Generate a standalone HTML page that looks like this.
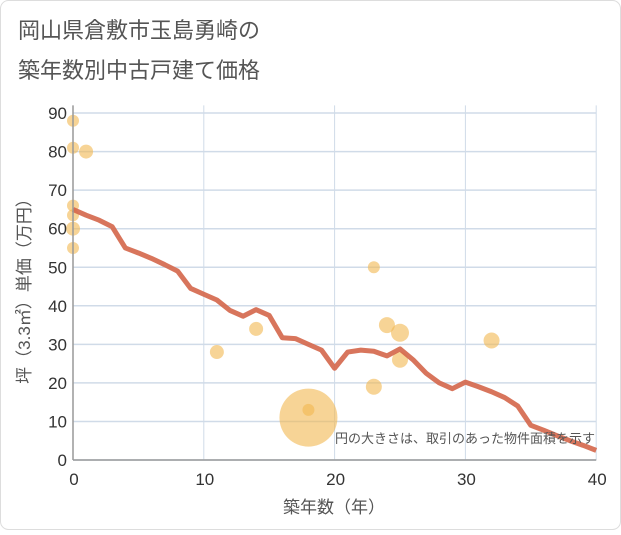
<!DOCTYPE html>
<html><head><meta charset="utf-8"><style>
body{margin:0;background:#fff;font-family:"Liberation Sans","Noto Sans CJK JP",sans-serif}
#wrap{position:relative;width:621px;height:530px}
</style></head><body>
<div id="wrap">
<svg id="chart" width="621" height="530">
<rect x="0.5" y="0.5" width="620" height="529" rx="8" fill="#fff" stroke="#ddd"/>
<text x="18" y="38" font-size="22" fill="#555">岡山県倉敷市玉島勇崎の</text>
<text x="18" y="78" font-size="22" fill="#555">築年数別中古戸建て価格</text>
<g id="grid"></g><g id="marks"></g><g id="axes"></g>
<text x="595" y="443" font-size="13" fill="#555" text-anchor="end">円の大きさは、取引のあった物件面積を示す</text>
<text x="334" y="513" font-size="17" fill="#555" text-anchor="middle">築年数（年）</text>
<text transform="translate(30,287) rotate(-90)" font-size="17" fill="#555" text-anchor="middle">坪（3.3㎡）単価（万円）</text>
</svg></div>
<script>
const xTicks=[0,10,20,30,40];
const yTicks=[0,10,20,30,40,50,60,70,80,90];
const lineYears=[0,1,2,3,4,5,6,7,8,9,10,11,12,13,14,15,16,17,18,19,20,21,22,23,24,25,26,27,28,29,30,31,32,33,34,35,36,37,38,39,40];
const lineValues=[65,63.5,62.2,60.5,55,53.7,52.3,50.7,49,44.5,43,41.5,38.8,37.3,39,37.5,31.7,31.5,30,28.5,23.8,28,28.5,28.2,27,28.8,26,22.5,20,18.5,20.2,19,17.7,16.2,14,9,7.7,6.3,5,3.8,2.5];
const ptYears=[0,0,1,0,0,0,0,11,14,18,18,23,23,24,25,25,32];
const ptValues=[88,81,80,66,63.5,60,55,28,34,11,13,50,19,35,33,26,31];
const ptSizes=[6,6,7,6,6,7,6,7,7,29,6,6,8,8,9,8,8];
const X=v=>73+v*13.08, Y=v=>460-v*3.855;
const NS="http://www.w3.org/2000/svg";
function mk(t,a,p){const e=document.createElementNS(NS,t);for(const k in a)e.setAttribute(k,a[k]);p.appendChild(e);return e;}
const grid=document.getElementById('grid'),marks=document.getElementById('marks'),axes=document.getElementById('axes');
xTicks.forEach(t=>{const l=mk('line',{x1:X(t),x2:X(t),y1:Y(92),y2:Y(0),stroke:'#d0dbe8','stroke-width':1},grid);

const tx=mk('text',{x:X(t)+1,y:485,'font-size':17,fill:'#333','text-anchor':'middle'},axes);tx.textContent=t;
});
yTicks.forEach(t=>{const l=mk('line',{x1:X(0),x2:X(40),y1:Y(t),y2:Y(t),stroke:'#d0dbe8','stroke-width':1.5},grid);

const tx=mk('text',{x:67,y:Y(t)+6,'font-size':17,fill:'#333','text-anchor':'end'},axes);tx.textContent=t;
});
const ya=mk('line',{x1:X(0),x2:X(0),y1:Y(92),y2:Y(0),stroke:'#999','stroke-width':1.5},axes);

const xa=mk('line',{x1:X(0),x2:X(40),y1:Y(0),y2:Y(0),stroke:'#999','stroke-width':1.5},axes);

ptYears.forEach((yr,i)=>{const c=mk('circle',{cx:X(yr),cy:Y(ptValues[i]),r:ptSizes[i],fill:'#f2b750','fill-opacity':0.6},marks);
});
const pl=mk('polyline',{points:lineYears.map((y,i)=>X(y)+','+Y(lineValues[i])).join(' '),fill:'none',stroke:'#d4664a','stroke-width':5,'stroke-linejoin':'round','stroke-opacity':0.9},marks);

</script>
</body></html>
